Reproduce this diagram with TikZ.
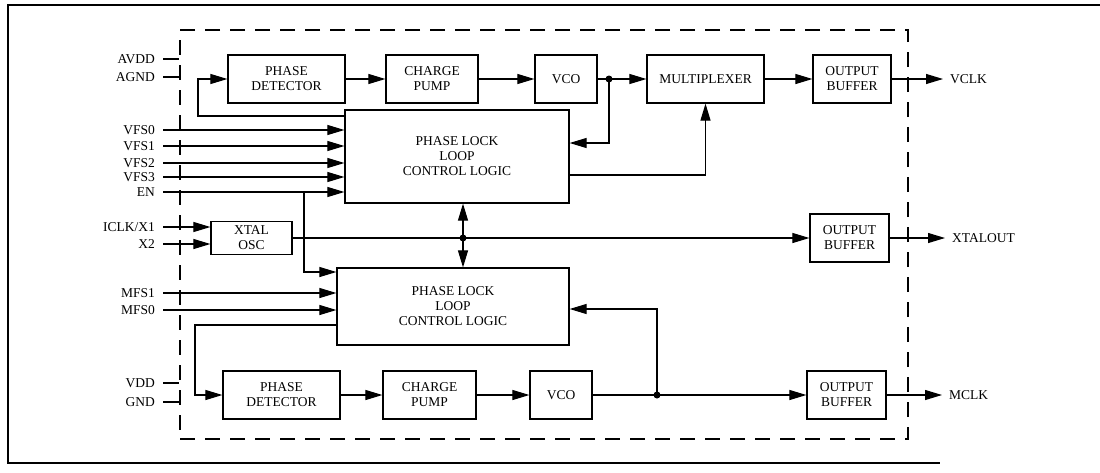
\documentclass[tikz,border=0pt]{standalone}
\usepackage{fontspec}
\setmainfont{Liberation Serif}
\usetikzlibrary{arrows.meta}
\begin{document}
\begin{tikzpicture}[x=1pt,y=-1pt,
  font=\fontsize{13.5}{15}\selectfont,
  blk/.style={draw,line width=1.2pt,align=center,inner sep=0pt,minimum height=48pt},
  arr/.style={line width=1.1pt,-{Triangle[length=17pt,width=10pt]}},
  ln/.style={line width=1.1pt},
  lbl/.style={anchor=east,inner sep=0pt},
  olbl/.style={anchor=west,inner sep=0pt},
  dot/.style={circle,fill,inner sep=0pt,minimum size=7pt}]
\useasboundingbox (0,0) rectangle (1100,472);
% outer frame
\draw[line width=1.6pt] (1100,5) -- (8,5) -- (8,463) -- (940,463);
% chip boundary
\node[draw,line width=1.1pt,dash pattern=on 15pt off 10pt,minimum width=728pt,minimum height=409pt,inner sep=0pt] (chip) at (544,234.5) {};
% top row
\node[blk,minimum width=117pt] (pd1) at (286.5,79) {PHASE\\DETECTOR};
\node[blk,minimum width=92pt] (cp1) at (432,79) {CHARGE\\PUMP};
\node[blk,minimum width=62pt] (vco1) at (566,79) {VCO};
\node[blk,minimum width=117pt] (mux) at (705.5,79) {MULTIPLEXER};
\node[blk,minimum width=78pt] (ob1) at (852,79) {OUTPUT\\BUFFER};
% control logic
\node[blk,minimum width=224pt,minimum height=93pt] (pll1) at (457,156.5) {PHASE LOCK\\LOOP\\CONTROL LOGIC};
\node[blk,minimum width=232pt,minimum height=77pt] (pll2) at (453,306.5) {PHASE LOCK\\LOOP\\CONTROL LOGIC};
% xtal
\node[blk,minimum width=81pt,minimum height=33pt] (xtal) at (251.5,238) {XTAL\\OSC};
\node[blk,minimum width=79pt] (ob2) at (849.5,238) {OUTPUT\\BUFFER};
% bottom row
\node[blk,minimum width=117pt] (pd2) at (281.5,395) {PHASE\\DETECTOR};
\node[blk,minimum width=93pt] (cp2) at (429.5,395) {CHARGE\\PUMP};
\node[blk,minimum width=62pt] (vco2) at (561,395) {VCO};
\node[blk,minimum width=79pt] (ob3) at (846.5,395) {OUTPUT\\BUFFER};
% top chain
\draw[arr] (pd1) -- (cp1);
\draw[arr] (cp1) -- (vco1);
\draw[arr] (vco1) -- (mux);
\draw[arr] (mux) -- (ob1);
\coordinate (vclk) at (943,79);
\draw[arr] (ob1) -- (vclk);
\node[olbl] (vclkl) at (950,79) {VCLK};
\node[dot] (d1) at (609,79) {};
\coordinate (d1b) at (609,143);
\draw[arr] (d1.center) -- (d1b) -- (pll1.east|-d1b);
\coordinate (m1) at (705.5,175);
\draw[arr] (pll1.east|-m1) -- (m1) -- (mux.south);
\coordinate (fb1) at (198,116);
\draw[arr] (pll1.west|-fb1) -- (fb1) |- (pd1.west);
% power pins
\node[lbl] (avdd) at (155,59) {AVDD};
\node[lbl] (agnd) at (155,77) {AGND};
\coordinate (avddp) at (163,59);
\coordinate (agndp) at (163,77);
\draw[ln] (avddp) -- (avddp-|chip.west);
\draw[ln] (agndp) -- (agndp-|chip.west);
% VFS inputs
\foreach \n/\t/\y in {v0/VFS0/130,v1/VFS1/146,v2/VFS2/163,v3/VFS3/177,en/EN/192}{
  \node[lbl] (\n l) at (155,\y) {\t};
  \coordinate (\n) at (163,\y);
  \draw[arr] (\n) -- (pll1.west|-\n);
}
\coordinate (enb) at (304,192);
\coordinate (enc) at (304,272);
\draw[arr] (enb) -- (enc) -- (pll2.west|-enc);
% xtal inputs
\node[lbl] (x1l) at (155,227) {ICLK/X1};
\node[lbl] (x2l) at (155,244) {X2};
\coordinate (x1) at (163,227);
\coordinate (x2) at (163,244);
\draw[arr] (x1) -- (xtal.west|-x1);
\draw[arr] (x2) -- (xtal.west|-x2);
\draw[arr] (xtal) -- (ob2);
\coordinate (xo) at (945,238);
\draw[arr] (ob2) -- (xo);
\node[olbl] (xol) at (952,238) {XTALOUT};
\node[dot] (d2) at (463,238) {};
\draw[arr] (d2.center) -- (pll1.south-|d2);
\draw[arr] (d2.center) -- (pll2.north-|d2);
% MFS inputs
\foreach \n/\t/\y in {m1p/MFS1/293,m0p/MFS0/310}{
  \node[lbl] (\n l) at (155,\y) {\t};
  \coordinate (\n) at (163,\y);
  \draw[arr] (\n) -- (pll2.west|-\n);
}
\coordinate (fb2) at (195,325);
\draw[arr] (pll2.west|-fb2) -- (fb2) |- (pd2.west);
% bottom chain
\draw[arr] (pd2) -- (cp2);
\draw[arr] (cp2) -- (vco2);
\draw[arr] (vco2) -- (ob3);
\node[dot] (d3) at (657,395) {};
\coordinate (d3b) at (657,309);
\draw[arr] (d3.center) -- (d3b) -- (pll2.east|-d3b);
\coordinate (mclk) at (942,395);
\draw[arr] (ob3) -- (mclk);
\node[olbl] (mclkl) at (949,395) {MCLK};
% VDD / GND
\node[lbl] (vddl) at (155,383) {VDD};
\node[lbl] (gndl) at (155,402) {GND};
\coordinate (vddp) at (163,383);
\coordinate (gndp) at (163,402);
\draw[ln] (vddp) -- (vddp-|chip.west);
\draw[ln] (gndp) -- (gndp-|chip.west);
\end{tikzpicture}
\end{document}
